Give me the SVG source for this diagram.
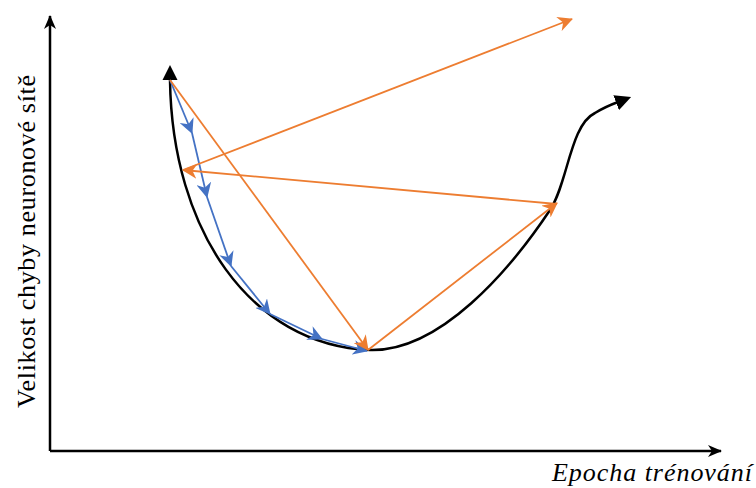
<svg xmlns="http://www.w3.org/2000/svg" width="756" height="488" viewBox="0 0 756 488">
<style>
.axis{stroke:#000;stroke-width:2.5;fill:none}
.curve{stroke:#000;stroke-width:2.5;fill:none}
.blue{stroke:#4472C4;stroke-width:1.8;fill:none;marker-end:url(#ab)}
.orange{stroke:#ED7D31;stroke-width:1.8;fill:none;marker-end:url(#ao)}
.lbl{font-family:"Liberation Serif","Times New Roman",serif;font-size:26px;fill:#000}
</style>
<defs>
<marker id="ax" markerUnits="userSpaceOnUse" markerWidth="14" markerHeight="14" viewBox="0 0 14 14" refX="13" refY="7" orient="auto">
<path d="M0,1 L14,7 L0,13 L4,7 z" fill="#000"/>
</marker>
<marker id="ab" markerUnits="userSpaceOnUse" markerWidth="15" markerHeight="15" viewBox="0 0 15 15" refX="14" refY="7.5" orient="auto">
<path d="M0,0 L15,7.5 L0,15 L4.5,7.5 z" fill="#4472C4"/>
</marker>
<marker id="ao" markerUnits="userSpaceOnUse" markerWidth="15" markerHeight="15" viewBox="0 0 15 15" refX="14" refY="7.5" orient="auto">
<path d="M0,0 L15,7.5 L0,15 L4.5,7.5 z" fill="#ED7D31"/>
</marker>
<marker id="tri" markerUnits="userSpaceOnUse" markerWidth="16" markerHeight="16" viewBox="0 0 16 16" refX="2" refY="8" orient="auto">
<path d="M0,0 L16,8 L0,16 z" fill="#000"/>
</marker>
</defs>
<g id="axes">
<path class="axis" d="M50,451 L50,16" marker-end="url(#ax)"/>
<path class="axis" d="M50,451 L721,451" marker-end="url(#ax)"/>
</g>
<g id="labels">
<text class="lbl" transform="translate(35,241.5) rotate(-90)" text-anchor="middle" textLength="333" lengthAdjust="spacing">Velikost chyby neuronové sítě</text>
<text class="lbl" x="552" y="481" font-style="italic" textLength="200" lengthAdjust="spacing">Epocha trénování</text>
</g>
<g id="error-curve">
<path class="curve" d="M170,80 C172,230 250,345 370,350 C440,352 510,270 550,210 C568,183 570,125 595,113 C603,108 610,105 618,102" marker-end="url(#tri)"/>
<path d="M170,65 L177.5,80 L162.5,80 z" fill="#000"/>
</g>
<g id="connectors">
<g id="gradient-small">
<path class="blue" d="M170,80 L192,133"/>
<path class="blue" d="M192,133 L207,197"/>
<path class="blue" d="M207,197 L231,266"/>
<path class="blue" d="M231,266 L270,314"/>
<path class="blue" d="M270,314 L322,339"/>
<path class="blue" d="M322,339 L367,351"/>
</g>
<g id="gradient-large">
<path class="orange" d="M170,80 L368,350"/>
<path class="orange" d="M368,350 L557,203"/>
<path class="orange" d="M557,204 L183,170"/>
<path class="orange" d="M183,170 L572,19"/>
</g>
</g>
</svg>
